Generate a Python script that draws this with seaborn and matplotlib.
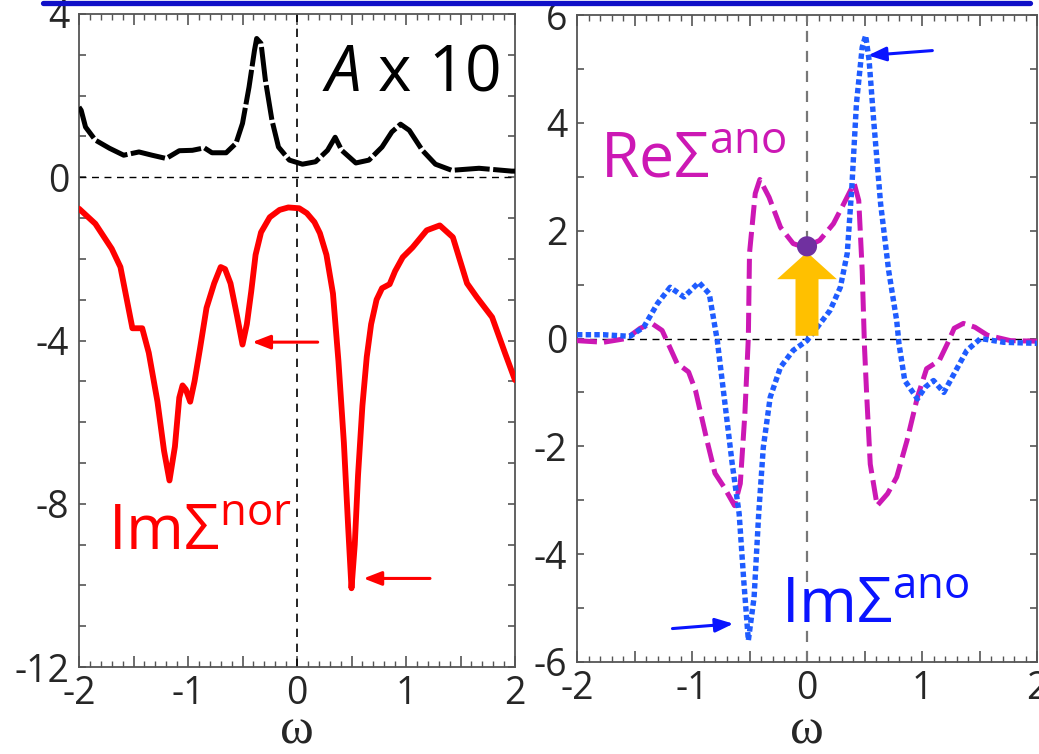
import numpy as np
import pandas as pd
import matplotlib
matplotlib.use("Agg")
import matplotlib.pyplot as plt
from matplotlib.lines import Line2D
from matplotlib.ticker import MultipleLocator, FuncFormatter
import seaborn as sns

# ---------------- data ----------------
A_x = [-2.0, -1.98, -1.94, -1.85, -1.72, -1.59, -1.45, -1.33, -1.2, -1.08, -0.96, -0.85,
       -0.78, -0.65, -0.56, -0.5, -0.44, -0.39, -0.37, -0.33, -0.29, -0.23, -0.17, -0.07,
       0.05, 0.17, 0.28, 0.35, 0.41, 0.54, 0.66, 0.78, 0.87, 0.95, 1.03, 1.15, 1.27,
       1.42, 1.67, 1.97, 2.0]
A_y = [1.72, 1.64, 1.23, 0.91, 0.71, 0.54, 0.62, 0.54, 0.46, 0.65, 0.66, 0.72,
       0.6, 0.6, 0.83, 1.32, 2.21, 3.11, 3.4, 3.28, 2.38, 1.4, 0.74, 0.42,
       0.32, 0.38, 0.66, 0.98, 0.66, 0.35, 0.42, 0.74, 1.11, 1.3, 1.15, 0.66, 0.32,
       0.17, 0.22, 0.15, 0.15]

nor_x = [-2.0, -1.85, -1.7, -1.62, -1.51, -1.42, -1.36, -1.28, -1.22, -1.17, -1.12, -1.08,
         -1.05, -1.02, -0.98, -0.94, -0.89, -0.83, -0.76, -0.7, -0.66, -0.61, -0.55, -0.5,
         -0.46, -0.42, -0.38, -0.33, -0.25, -0.16, -0.08, 0.02, 0.09, 0.16, 0.21, 0.27,
         0.33, 0.38, 0.43, 0.47, 0.5, 0.53, 0.56, 0.6, 0.64, 0.68, 0.73, 0.78, 0.85, 0.9,
         0.97, 1.06, 1.19, 1.31, 1.43, 1.56, 1.65, 1.79, 1.91, 2.0]
nor_y = [-0.77, -1.14, -1.75, -2.2, -3.7, -3.7, -4.3, -5.5, -6.7, -7.43, -6.6, -5.4,
         -5.1, -5.2, -5.5, -5.0, -4.2, -3.2, -2.6, -2.2, -2.25, -2.6, -3.4, -4.1,
         -3.6, -2.8, -1.9, -1.35, -0.98, -0.8, -0.74, -0.76, -0.88, -1.1, -1.37, -1.9,
         -2.85, -4.5, -6.5, -8.6, -10.07, -9.0, -7.3, -5.6, -4.4, -3.6, -3.0, -2.72, -2.62, -2.3,
         -1.96, -1.72, -1.3, -1.18, -1.47, -2.6, -2.94, -3.43, -4.32, -4.97]

re_x = [-2.0, -1.77, -1.57, -1.45, -1.35, -1.26, -1.2, -1.13, -1.03, -0.97, -0.87, -0.8,
        -0.72, -0.63, -0.58, -0.54, -0.51, -0.5, -0.45, -0.41, -0.33, -0.23, -0.12, -0.02,
        0.11, 0.23, 0.32, 0.41, 0.45, 0.48, 0.5, 0.52, 0.55, 0.61, 0.7, 0.78, 0.87, 0.96,
        1.04, 1.15, 1.22, 1.28, 1.36, 1.46, 1.57, 1.77, 2.0]
re_y = [-0.04, -0.07, 0.0, 0.19, 0.28, 0.15, -0.13, -0.46, -0.62, -0.96, -1.89, -2.5,
        -2.76, -3.1, -2.69, -1.39, 0.02, 1.58, 2.69, 2.95, 2.62, 2.06, 1.76, 1.69,
        1.82, 2.13, 2.5, 2.88, 2.56, 1.26, -0.16, -1.09, -2.33, -3.1, -2.88, -2.57, -1.89, -1.09,
        -0.56, -0.41, -0.1, 0.19, 0.28, 0.21, 0.06, -0.04, -0.05]

im_x = [-2.0, -1.77, -1.54, -1.42, -1.3, -1.19, -1.07, -0.94, -0.85, -0.8, -0.78, -0.72,
        -0.65, -0.59, -0.55, -0.51, -0.46, -0.42, -0.38, -0.32, -0.23, -0.12, 0.0, 0.09,
        0.2, 0.29, 0.35, 0.39, 0.43, 0.48, 0.51, 0.54, 0.58, 0.64, 0.71, 0.78, 0.8, 0.85,
        0.96, 1.03, 1.1, 1.19, 1.28, 1.39, 1.51, 1.71, 2.0]
im_y = [0.07, 0.07, 0.04, 0.21, 0.65, 0.95, 0.77, 1.04, 0.83, 0.21, -0.04, -1.09,
        -2.33, -3.25, -4.49, -5.6, -4.8, -3.25, -2.02, -1.09, -0.53, -0.22, -0.04, 0.21,
        0.52, 0.95, 1.58, 2.81, 4.36, 5.4, 5.62, 5.16, 4.04, 2.5, 1.26, 0.33, -0.1, -0.78,
        -1.12, -0.9, -0.78, -1.0, -0.65, -0.22, 0.0, -0.07, -0.09]

x_ticks = [-2, -1, 0, 1, 2]
left_yticks = [-12, -8, -4, 0, 4]
right_yticks = [-6, -4, -2, 0, 2, 4, 6]

df_A = pd.DataFrame({"w": A_x, "v": A_y})
df_nor = pd.DataFrame({"w": nor_x, "v": nor_y})
df_re = pd.DataFrame({"w": re_x, "v": re_y})
df_im = pd.DataFrame({"w": im_x, "v": im_y})

# ---------------- style ----------------
sns.set_theme(style="white")
plt.rcParams["font.family"] = ["Open Sans", "DejaVu Sans"]
plt.rcParams["mathtext.fontset"] = "custom"
plt.rcParams["mathtext.rm"] = "Open Sans"
plt.rcParams["mathtext.it"] = "Open Sans:italic"
plt.rcParams["mathtext.bf"] = "Open Sans:bold"

W, H = 1039, 754
fig = plt.figure(figsize=(W / 100, H / 100), dpi=100)
fig.patch.set_facecolor("white")

L_BOTTOM, R_BOTTOM = 667, 662
axL = fig.add_axes([79 / W, 1 - L_BOTTOM / H, (515 - 79) / W, (L_BOTTOM - 14) / H])
axR = fig.add_axes([577 / W, 1 - R_BOTTOM / H, (1037 - 577) / W, (R_BOTTOM - 15) / H])

TICK_FS = 27
LABEL_FS = 45


def int_fmt(step):
    def f(v, p):
        r = int(round(v))
        if abs(v - r) < 1e-6 and r % step == 0:
            return f"{r}"
        return ""
    return FuncFormatter(f)


def style_axis(ax, ylim, ystep, bottom_px, height_px):
    ax.set_xlim(-2, 2)
    ax.set_ylim(*ylim)
    ax.xaxis.set_major_locator(MultipleLocator(0.5))
    ax.xaxis.set_minor_locator(MultipleLocator(0.1))
    ax.xaxis.set_major_formatter(int_fmt(1))
    ax.yaxis.set_major_locator(MultipleLocator(1))
    ax.yaxis.set_major_formatter(int_fmt(ystep))
    ax.tick_params(axis="x", which="major", direction="in", length=8, width=1.2,
                   color="#555555", top=True, bottom=True, labelsize=TICK_FS, pad=6)
    ax.tick_params(axis="x", which="minor", direction="in", length=4, width=1.0,
                   color="#555555", top=True, bottom=True)
    ax.tick_params(axis="y", which="major", direction="in", length=5, width=1.2,
                   color="#555555", left=True, right=True, labelsize=TICK_FS, pad=7)
    for s in ax.spines.values():
        s.set_color("#555555")
        s.set_linewidth(1.3)
    ax.set_xlabel("ω", fontsize=37, family="Liberation Serif")
    ax.xaxis.label.set_va("baseline")
    ax.xaxis.set_label_coords(0.5, (bottom_px - 743) / height_px)
    ax.set_ylabel("")


# ---------------- left panel ----------------
sns.lineplot(data=df_A, x="w", y="v", ax=axL, color="black", lw=3.6,
             linestyle=(0, (7, 0.7)), estimator=None, sort=False, zorder=3)
sns.lineplot(data=df_nor, x="w", y="v", ax=axL, color="#ff0000", lw=4.2,
             estimator=None, sort=False, zorder=3)
style_axis(axL, (-12, 4), 4, L_BOTTOM, L_BOTTOM - 14)
axL.axhline(0, color="black", lw=1.0, ls=(0, (5, 4)), zorder=1)
axL.axvline(0, color="black", lw=1.2, ls=(0, (5, 4)), zorder=1)

axL.text(0.23, 2.13, r"$\mathit{A}$ x 10", fontsize=LABEL_FS + 1, color="black",
         ha="left", va="baseline")
axL.text(-1.73, -9.14, r"Im$\Sigma^{\mathrm{nor}}$", fontsize=LABEL_FS, color="#ff0000",
         ha="left", va="baseline")

for tail, tip in (((0.19, -4.04), (-0.41, -4.04)), ((1.22, -9.83), (0.61, -9.83))):
    axL.annotate("", xy=tip, xytext=tail,
                 arrowprops=dict(arrowstyle="-|>,head_length=0.9,head_width=0.35",
                                 color="#ff0000", lw=2.2, shrinkA=0, shrinkB=0))

# ---------------- right panel ----------------
sns.lineplot(data=df_re, x="w", y="v", ax=axR, color="#cc18b4", lw=3.6,
             linestyle=(0, (4, 1.4)), estimator=None, sort=False, zorder=3)
sns.lineplot(data=df_im, x="w", y="v", ax=axR, color="#1f5cff", lw=3.9,
             linestyle=(0, (1, 0.6)), estimator=None, sort=False, zorder=4)
style_axis(axR, (-6, 6), 2, R_BOTTOM, R_BOTTOM - 15)
axR.axhline(0, color="black", lw=1.0, ls=(0, (5, 4)), zorder=1)
axR.axvline(0, color="#777777", lw=1.6, ls=(0, (5, 4)), zorder=1)

axR.text(-1.8, 2.99, r"Re$\Sigma^{\mathrm{ano}}$", fontsize=LABEL_FS, color="#cc18b4",
         ha="left", va="baseline")
axR.text(-0.23, -5.27, r"Im$\Sigma^{\mathrm{ano}}$", fontsize=LABEL_FS, color="#0a14ff",
         ha="left", va="baseline")

for tail, tip in (((1.09, 5.34), (0.53, 5.25)), ((-1.17, -5.38), (-0.64, -5.29))):
    axR.annotate("", xy=tip, xytext=tail,
                 arrowprops=dict(arrowstyle="-|>,head_length=0.9,head_width=0.35",
                                 color="#0a14ff", lw=2.2, shrinkA=0, shrinkB=0))

axR.arrow(0, 0.05, 0, 1.55, width=0.2, head_width=0.52, head_length=0.5,
          length_includes_head=True, color="#ffc000", ec="none", zorder=5)
axR.scatter([0], [1.71], s=210, color="#7030a0", zorder=6, edgecolor="none")

# top blue rule
fig.add_artist(Line2D([43 / W, 1030 / W], [1 - 2.5 / H, 1 - 2.5 / H],
                      transform=fig.transFigure, color="#1010c8", lw=3.8))

fig.savefig("out.png", dpi=100)
